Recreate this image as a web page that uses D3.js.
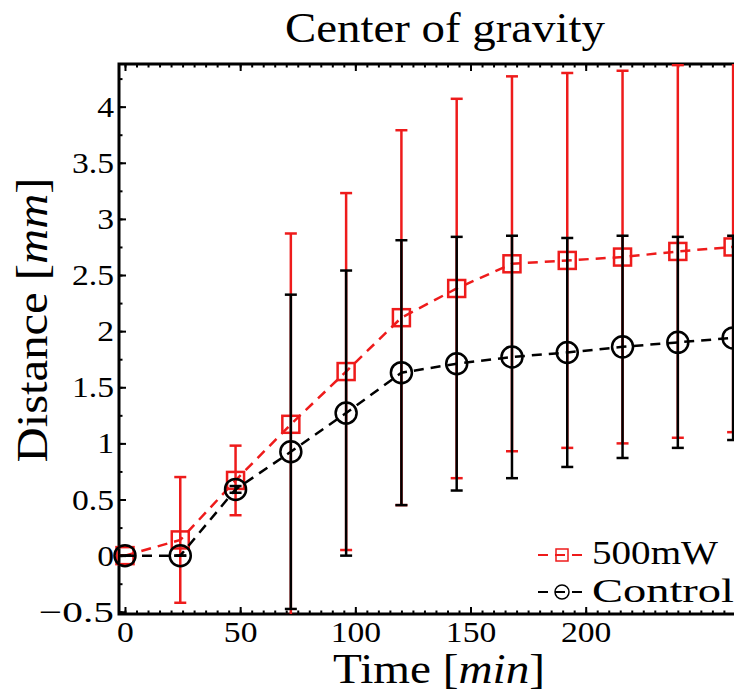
<!DOCTYPE html>
<html>
<head>
<meta charset="utf-8">
<script src="https://cdn.jsdelivr.net/npm/d3@7"></script>
<style>
  html, body { margin: 0; padding: 0; background: #fff; overflow: hidden; }
  svg { display: block; }
  text { font-family: "Liberation Serif", "Times New Roman", serif; fill: #000; }
</style>
</head>
<body>
<svg id="chart"></svg>
<script>
// sampling times in minutes (one every 0.4 h)
const times = [0, 24, 48, 72, 96, 120, 144, 168, 192, 216, 240, 264];

// mean distance of the center of gravity [mm] and its error
const mean500 = [0, 0.14, 0.67, 1.17, 1.64, 2.12, 2.38, 2.60, 2.63, 2.66, 2.71, 2.75];
const err500 = [0, 0.56, 0.31, 1.70, 1.59, 1.67, 1.69, 1.67, 1.67, 1.66, 1.66, 1.65];
const meanControl = [0, 0, 0.59, 0.925, 1.27, 1.63, 1.71, 1.77, 1.81, 1.86, 1.90, 1.94];
const errControl = [0, 0, 0.03, 1.40, 1.27, 1.18, 1.13, 1.08, 1.02, 0.99, 0.94, 0.91];

const seriesNames = ['500mW', 'Control'];

// tick values and labels
const xTicks = [0, 50, 100, 150, 200];
const xTickLabels = ['0', '50', '100', '150', '200'];
const yTicks = [-0.5, 0, 0.5, 1, 1.5, 2, 2.5, 3, 3.5, 4];
const yTickLabels = ['\u22120.5', '0', '0.5', '1', '1.5', '2', '2.5', '3', '3.5', '4'];

const RED = '#ee1b1b';

const dim = { width: 734, height: 694, left: 119, right: 793, top: 64, bottom: 614 };

const svg = d3.select('#chart')
  .attr('width', dim.width)
  .attr('height', dim.height);

const x = d3.scaleLinear().domain([-2.6, 290]).range([dim.left, dim.right]);
const y = d3.scaleLinear().domain([-0.52, 4.38]).range([dim.bottom, dim.top]);

// widen glyphs a bit, the original uses a wider LaTeX font
function stretch(sel, k) {
  sel.each(function () {
    let w = this.getComputedTextLength() * k;
    // the TeX minus sign is much longer than the Times one
    if (this.textContent.startsWith('\u2212')) w += 14;
    d3.select(this).attr('textLength', w).attr('lengthAdjust', 'spacingAndGlyphs');
  });
}

svg.append('clipPath')
  .attr('id', 'plot-clip')
  .append('rect')
  .attr('x', dim.left)
  .attr('y', dim.top)
  .attr('width', dim.right - dim.left)
  .attr('height', dim.bottom - dim.top);

// minor ticks first, majors over them
const xMinor = d3.range(0, 291, 5);
const yMinor = d3.range(-0.5, 4.4, 0.25);

function styleAxis(g) {
  g.select('.domain').remove();
  g.selectAll('line').attr('stroke', '#000').attr('stroke-width', 2);
}

svg.append('g')
  .attr('transform', `translate(0,${dim.bottom})`)
  .call(d3.axisBottom(x).tickValues(xMinor).tickSizeInner(-3.5).tickSizeOuter(0).tickFormat(''))
  .call(styleAxis);
svg.append('g')
  .attr('transform', `translate(0,${dim.top})`)
  .call(d3.axisTop(x).tickValues(xMinor).tickSizeInner(-3.5).tickSizeOuter(0).tickFormat(''))
  .call(styleAxis);
svg.append('g')
  .attr('transform', `translate(${dim.left},0)`)
  .call(d3.axisLeft(y).tickValues(yMinor).tickSizeInner(-3.5).tickSizeOuter(0).tickFormat(''))
  .call(styleAxis);

const xAxis = svg.append('g')
  .attr('transform', `translate(0,${dim.bottom})`)
  .call(d3.axisBottom(x).tickValues(xTicks).tickSizeInner(-7).tickSizeOuter(0)
    .tickPadding(7).tickFormat((d, i) => xTickLabels[i]))
  .call(styleAxis);
svg.append('g')
  .attr('transform', `translate(0,${dim.top})`)
  .call(d3.axisTop(x).tickValues(xTicks).tickSizeInner(-7).tickSizeOuter(0).tickFormat(''))
  .call(styleAxis);
const yAxis = svg.append('g')
  .attr('transform', `translate(${dim.left},0)`)
  .call(d3.axisLeft(y).tickValues(yTicks).tickSizeInner(-7).tickSizeOuter(0)
    .tickPadding(5).tickFormat((d, i) => yTickLabels[i]))
  .call(styleAxis);

[xAxis, yAxis].forEach(a => {
  a.attr('font-family', null).attr('font-size', null);
  a.selectAll('text').style('font-size', '30px').call(stretch, 1.12);
});

// axes frame
svg.append('rect')
  .attr('x', dim.left)
  .attr('y', dim.top)
  .attr('width', dim.right - dim.left)
  .attr('height', dim.bottom - dim.top)
  .attr('fill', 'none')
  .attr('stroke', '#000')
  .attr('stroke-width', 3);

const series = [
  { name: seriesNames[0], mean: mean500, err: err500, color: RED, marker: 'square' },
  { name: seriesNames[1], mean: meanControl, err: errControl, color: '#000', marker: 'circle' }
];

const line = d3.line()
  .x(d => x(d.t))
  .y(d => y(d.m));

const capHalf = 6;
const squareSide = 17;
const circleR = 10.5;

series.forEach(s => {
  const pts = times.map((t, i) => ({ t, m: s.mean[i], e: s.err[i] }));
  const g = svg.append('g');
  const clipped = g.append('g').attr('clip-path', 'url(#plot-clip)');

  clipped.append('path')
    .datum(pts)
    .attr('d', line)
    .attr('fill', 'none')
    .attr('stroke', s.color)
    .attr('stroke-width', 2.5)
    .attr('stroke-dasharray', '10,7');

  pts.forEach(p => {
    const cx = x(p.t);
    const y0 = y(p.m - p.e);
    const y1 = y(p.m + p.e);
    clipped.append('line')
      .attr('x1', cx).attr('x2', cx)
      .attr('y1', y0).attr('y2', y1)
      .attr('stroke', s.color).attr('stroke-width', 2.5);
    [y0, y1].forEach(cy => {
      clipped.append('line')
        .attr('x1', cx - capHalf).attr('x2', cx + capHalf)
        .attr('y1', cy).attr('y2', cy)
        .attr('stroke', s.color).attr('stroke-width', 2.5);
    });

    if (s.marker === 'square') {
      g.append('rect')
        .attr('x', cx - squareSide / 2)
        .attr('y', y(p.m) - squareSide / 2)
        .attr('width', squareSide)
        .attr('height', squareSide)
        .attr('fill', 'none')
        .attr('stroke', s.color)
        .attr('stroke-width', 2.5);
    } else {
      g.append('circle')
        .attr('cx', cx)
        .attr('cy', y(p.m))
        .attr('r', circleR)
        .attr('fill', 'none')
        .attr('stroke', s.color)
        .attr('stroke-width', 2.5);
    }
  });
});

// legend, lower right inside the axes
const legend = svg.append('g');
const legendRows = [
  { lineY: 555, baseY: 564, width: 126 },
  { lineY: 592, baseY: 602, width: 142 }
];
series.forEach((s, i) => {
  const row = legendRows[i];
  legend.append('line')
    .attr('x1', 538).attr('x2', 586)
    .attr('y1', row.lineY).attr('y2', row.lineY)
    .attr('stroke', s.color)
    .attr('stroke-width', 2)
    .attr('stroke-dasharray', '10,7');
  if (s.marker === 'square') {
    legend.append('rect')
      .attr('x', 562 - 6).attr('y', row.lineY - 6)
      .attr('width', 12).attr('height', 12)
      .attr('fill', 'none').attr('stroke', s.color).attr('stroke-width', 1.5);
  } else {
    legend.append('circle')
      .attr('cx', 562).attr('cy', row.lineY).attr('r', 7)
      .attr('fill', 'none').attr('stroke', s.color).attr('stroke-width', 1.5);
  }
  legend.append('text')
    .attr('x', 592)
    .attr('y', row.baseY)
    .style('font-size', '33px')
    .attr('textLength', row.width)
    .attr('lengthAdjust', 'spacingAndGlyphs')
    .text(s.name);
});

// title and axis labels
svg.append('text')
  .attr('x', 445)
  .attr('y', 42)
  .attr('text-anchor', 'middle')
  .style('font-size', '42px')
  .attr('textLength', 320)
  .attr('lengthAdjust', 'spacingAndGlyphs')
  .text('Center of gravity');

const xLabel = svg.append('text')
  .attr('x', 439)
  .attr('y', 683)
  .attr('text-anchor', 'middle')
  .style('font-size', '42px')
  .attr('textLength', 212)
  .attr('lengthAdjust', 'spacingAndGlyphs');
xLabel.append('tspan').text('Time [');
xLabel.append('tspan').style('font-style', 'italic').text('min');
xLabel.append('tspan').text(']');

const yLabel = svg.append('text')
  .attr('transform', 'translate(47,320) rotate(-90)')
  .attr('text-anchor', 'middle')
  .style('font-size', '44px')
  .attr('textLength', 285)
  .attr('lengthAdjust', 'spacingAndGlyphs');
yLabel.append('tspan').text('Distance [');
yLabel.append('tspan').style('font-style', 'italic').text('mm');
yLabel.append('tspan').text(']');
</script>
</body>
</html>
